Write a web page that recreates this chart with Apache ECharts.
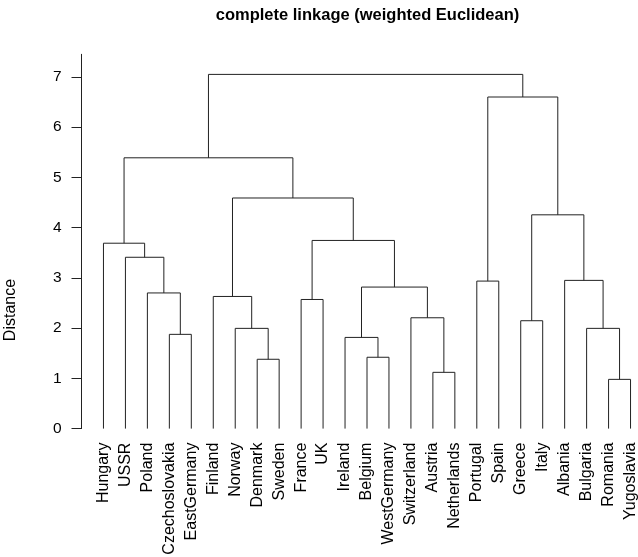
<!DOCTYPE html>
<html>
<head>
<meta charset="utf-8">
<script src="https://cdn.jsdelivr.net/npm/echarts@6/dist/echarts.min.js"></script>
<style>html,body{margin:0;padding:0;background:#fff}#c{width:638px;height:557px}</style>
</head>
<body>
<div id="c"></div>
<script>
// Leaves in dendrogram display order
const leaves = ['Hungary','USSR','Poland','Czechoslovakia','EastGermany','Finland','Norway','Denmark','Sweden','France','UK','Ireland','Belgium','WestGermany','Switzerland','Austria','Netherlands','Portugal','Spain','Greece','Italy','Albania','Bulgaria','Romania','Yugoslavia'];
// Merges (hclust convention): negative = leaf (1-based position), positive = earlier merge number
const mergeLeft  = [-24,-16,-8,-13,-12,-4,-7,-23,-20,-15,-10,-6,-3,5,-18,-22,-2,-1,11,9,12,18,15,22];
const mergeRight = [-25,-17,-9,-14,4,-5,3,1,-21,2,-11,7,6,10,-19,8,13,17,14,16,19,21,20,23];
const mergeHeight = [0.98,1.12,1.38,1.42,1.815,1.876,1.995,1.995,2.147,2.206,2.57,2.63,2.70,2.817,2.936,2.95,3.41,3.69,3.745,4.255,4.59,5.39,6.60,7.05];
const yTicks = [0,1,2,3,4,5,6,7];

const FONT = '"Liberation Sans", Arial, Helvetica, sans-serif';

// Build node positions from the merge table
const nodeX = [], nodeH = [];
function pos(id){ return id < 0 ? [-id, 0] : [nodeX[id-1], nodeH[id-1]]; }
const segs = [];
for (let k = 0; k < mergeHeight.length; k++) {
  const a = pos(mergeLeft[k]), b = pos(mergeRight[k]);
  nodeX.push((a[0] + b[0]) / 2);
  nodeH.push(mergeHeight[k]);
  segs.push([a[0], a[1], b[0], b[1], mergeHeight[k]]);
}

const chart = echarts.init(document.getElementById('c'), null, {renderer: 'canvas'});
chart.setOption({
  animation: false,
  backgroundColor: '#fff',
  title: {
    text: 'complete linkage (weighted Euclidean)',
    left: 362.5, top: 2, textAlign: 'center',
    textStyle: {fontFamily: FONT, fontSize: 16.5, fontWeight: 'bold', color: '#000'}
  },
  grid: {left: 81.5, top: 54.3, width: 571, height: 374.3, containLabel: false, outerBoundsMode: 'none'},
  xAxis: {
    type: 'value', min: 0, max: 26, interval: 1,
    axisLine: {show: false}, axisTick: {show: false}, splitLine: {show: false},
    axisLabel: {
      customValues: leaves.map((_, i) => i + 1),
      formatter: v => leaves[Math.round(v) - 1] || '',
      rotate: 90, margin: 14, fontSize: 16, color: '#000', fontFamily: FONT
    }
  },
  yAxis: {
    type: 'value', min: 0, max: 7.45, interval: 1,
    axisLine: {show: true, lineStyle: {color: '#222', width: 1}},
    axisTick: {show: true, length: 10, customValues: yTicks, lineStyle: {color: '#222'}},
    axisLabel: {customValues: yTicks, margin: 20, fontSize: 15.5, color: '#000', fontFamily: FONT},
    splitLine: {show: false}
  },
  graphic: [{
    type: 'text', x: 10.5, y: 310, rotation: Math.PI / 2,
    style: {text: 'Distance', font: '16px ' + FONT, fill: '#000', align: 'center', verticalAlign: 'middle'}
  }],
  series: [{
    type: 'custom',
    clip: false,
    encode: {x: [0, 2], y: [1, 3, 4]},
    data: segs,
    renderItem: function (params, api) {
      const p1 = api.coord([api.value(0), api.value(1)]);
      const p2 = api.coord([api.value(0), api.value(4)]);
      const p3 = api.coord([api.value(2), api.value(4)]);
      const p4 = api.coord([api.value(2), api.value(3)]);
      return {
        type: 'polyline',
        shape: {points: [p1, p2, p3, p4]},
        style: {stroke: '#222', lineWidth: 1, fill: null}
      };
    }
  }]
});
</script>
</body>
</html>
